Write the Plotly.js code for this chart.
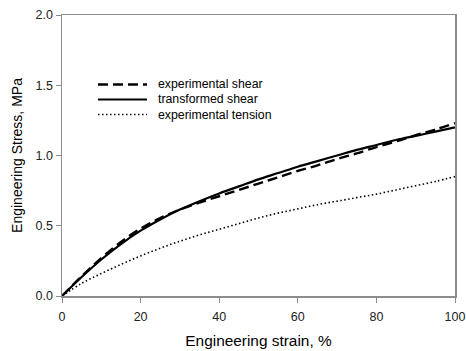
<!DOCTYPE html>
<html>
<head>
<meta charset="utf-8">
<script src="https://cdn.plot.ly/plotly-3.0.1.min.js"></script>
<style>html,body{margin:0;padding:0;background:#fff}#chart{width:466px;height:351px}</style>
</head>
<body>
<div id="chart"></div>
<script>
const strain = [0, 5, 10, 15, 20, 25, 30, 35, 40, 45, 50, 55, 60, 65, 70, 75, 80, 85, 90, 95, 100];
const expShear = [0, 0.14, 0.27, 0.385, 0.48, 0.555, 0.615, 0.665, 0.71, 0.755, 0.80, 0.845, 0.89, 0.93, 0.975, 1.015, 1.06, 1.10, 1.145, 1.185, 1.23];
const transShear = [0, 0.135, 0.26, 0.37, 0.465, 0.545, 0.615, 0.675, 0.73, 0.78, 0.83, 0.875, 0.92, 0.96, 1.0, 1.04, 1.075, 1.11, 1.14, 1.17, 1.20];
const expTension = [0, 0.09, 0.16, 0.225, 0.285, 0.34, 0.39, 0.435, 0.475, 0.515, 0.555, 0.59, 0.62, 0.65, 0.675, 0.70, 0.725, 0.755, 0.785, 0.815, 0.85];
const names = ["experimental shear", "transformed shear", "experimental tension"];
const xTicks = [0, 20, 40, 60, 80, 100];
const yTicks = [0, 0.5, 1.0, 1.5, 2.0];
const yTickText = ["0.0", "0.5", "1.0", "1.5", "2.0"];

const font = "Liberation Sans, Arial, sans-serif";
const styles = [
  {color: "#000", width: 2.4, dash: "10px,5px"},
  {color: "#000", width: 2.2, dash: "solid"},
  {color: "#000", width: 1.6, dash: "1.5px,2.5px"}
];
const series = [expShear, transShear, expTension];
const traces = series.map((ys, i) => ({
  x: strain, y: ys, name: names[i], mode: "lines",
  line: Object.assign({shape: "spline"}, styles[i]), showlegend: false
}));

// manual legend (paper coordinates)
const legendRows = [0.7527, 0.6993, 0.6459];
const shapes = legendRows.map((yy, i) => ({
  type: "line", xref: "paper", yref: "paper", x0: 0.0916, x1: 0.2163, y0: yy, y1: yy,
  line: styles[i]
}));
const annotations = legendRows.map((yy, i) => ({
  xref: "paper", yref: "paper", x: 0.242, y: yy, xanchor: "left", yanchor: "middle",
  text: names[i], showarrow: false, borderpad: 0, font: {family: font, size: 12.3, color: "#000"}
}));

const axisCommon = {
  showgrid: false, zeroline: false, showline: true, mirror: true,
  linecolor: "#8c8c8c", linewidth: 1.5,
  ticks: "outside", ticklen: 5, tickcolor: "#8c8c8c", tickwidth: 1,
  tickfont: {family: font, size: 12.5, color: "#222"}
};
const layout = {
  width: 466, height: 351,
  margin: {l: 62, r: 11, t: 15, b: 55},
  paper_bgcolor: "#fff", plot_bgcolor: "#fff",
  showlegend: false,
  shapes: shapes, annotations: annotations,
  xaxis: Object.assign({}, axisCommon, {range: [0, 100], tickvals: xTicks, ticktext: xTicks.map(String),
    ticklabelstandoff: 3,
    title: {text: "Engineering strain, %", font: {family: font, size: 15.4, color: "#000"}, standoff: 12}}),
  yaxis: Object.assign({}, axisCommon, {range: [0, 2.0], tickvals: yTicks, ticktext: yTickText,
    title: {text: "Engineering Stress, MPa", font: {family: font, size: 14, color: "#000"}, standoff: 9}})
};
Plotly.newPlot("chart", traces, layout, {displayModeBar: false, staticPlot: true});
</script>
</body>
</html>
